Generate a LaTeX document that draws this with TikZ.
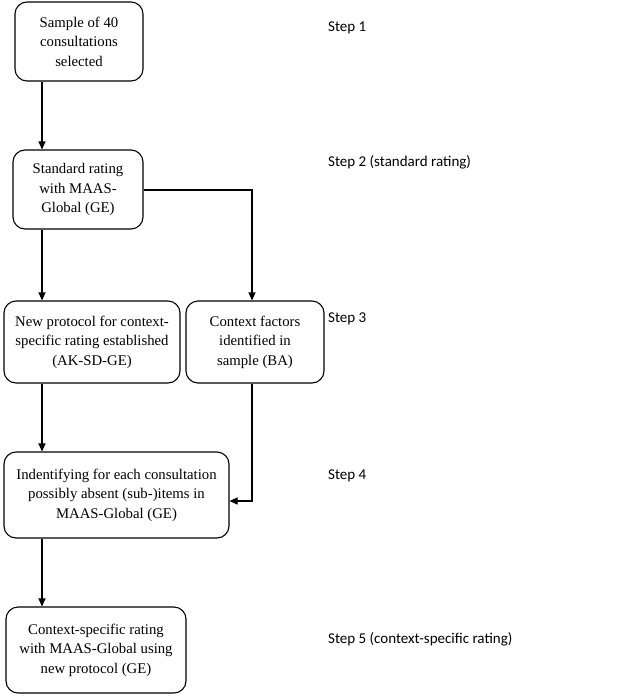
\documentclass[tikz,border=0pt]{standalone}
\usepackage{fontspec}
\newfontfamily\boxfont{Liberation Serif}
\newfontfamily\stepfont{Carlito}
\usetikzlibrary{arrows.meta}
\begin{document}
\begin{tikzpicture}[x=1pt,y=-1pt,
  stepbox/.style={draw=black,line width=1.1pt,rounded corners=12pt,align=center,inner sep=2pt,
    font=\boxfont\fontsize{14.75}{19.5}\selectfont},
  steplabel/.style={anchor=base west,inner sep=0pt,font=\stepfont\fontsize{15}{18}\selectfont},
  arr/.style={line width=1.1pt,-{Triangle[length=8pt,width=7pt]}}]
\useasboundingbox (0,0) rectangle (616,696);
\node[stepbox,minimum width=128pt,minimum height=79pt] (b1) at (79,41.5) {Sample of 40\\consultations\\selected};
\node[stepbox,minimum width=130pt,minimum height=79pt] (b2) at (78,189.5) {Standard rating\\with MAAS-\\Global (GE)};
\node[stepbox,minimum width=176pt,minimum height=82pt] (b3a) at (92,342) {New protocol for context-\\specific rating established\\(AK-SD-GE)};
\node[stepbox,minimum width=138pt,minimum height=82pt] (b3b) at (255,342) {Context factors\\identified in\\sample (BA)};
\node[stepbox,minimum width=225pt,minimum height=86pt] (b4) at (116.5,495) {Indentifying for each consultation\\possibly absent (sub-)items in\\MAAS-Global (GE)};
\node[stepbox,minimum width=180pt,minimum height=86pt] (b5) at (96,650) {Context-specific rating\\with MAAS-Global using\\new protocol (GE)};
\coordinate (xl) at (42,0);
\coordinate (xr) at (252,0);
\coordinate (y2) at (0,190);
\coordinate (y4) at (0,501);
\draw[arr] (b1.south -| xl) -- (b2.north -| xl);
\draw[arr] (b2.south -| xl) -- (b3a.north -| xl);
\draw[arr] (b2.east |- y2) -| (b3b.north -| xr);
\draw[arr] (b3a.south -| xl) -- (b4.north -| xl);
\draw[arr] (b3b.south -| xr) |- (b4.east |- y4);
\draw[arr] (b4.south -| xl) -- (b5.north -| xl);
\node[steplabel] (s1) at (328,31) {Step 1};
\node[steplabel] (s2) at (328,166) {Step 2 (standard rating)};
\node[steplabel] (s3) at (328,322) {Step 3};
\node[steplabel] (s4) at (328,479) {Step 4};
\node[steplabel] (s5) at (328,643) {Step 5 (context-specific rating)};
\end{tikzpicture}
\end{document}
